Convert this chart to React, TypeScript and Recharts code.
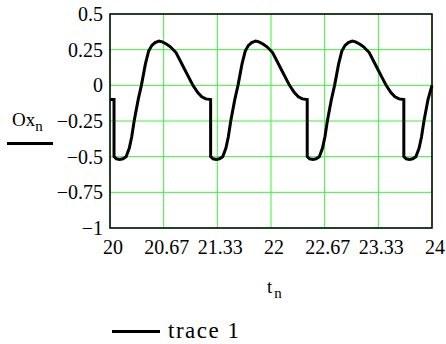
import React from "react"
import {
    LineChart,
    Line,
    XAxis,
    YAxis,
    CartesianGrid,
    ReferenceArea,
} from "recharts"

// time samples (vertical drops use the same t twice)
const T = [
    20, 20.05,
    20.05, 20.08, 20.12, 20.16, 20.2, 20.24, 20.27, 20.3, 20.35, 20.39, 20.44, 20.48,
    20.52, 20.56, 20.61, 20.65, 20.7, 20.75, 20.82, 20.92, 21.03, 21.09, 21.14, 21.19, 21.25,
    21.25, 21.28, 21.32, 21.36, 21.4, 21.44, 21.47, 21.5, 21.55, 21.59, 21.64, 21.68,
    21.72, 21.76, 21.81, 21.85, 21.9, 21.95, 22.02, 22.12, 22.23, 22.29, 22.34, 22.39, 22.45,
    22.45, 22.48, 22.52, 22.56, 22.6, 22.64, 22.67, 22.7, 22.75, 22.79, 22.84, 22.88,
    22.92, 22.96, 23.01, 23.05, 23.1, 23.15, 23.22, 23.32, 23.43, 23.49, 23.54, 23.59, 23.65,
    23.65, 23.68, 23.72, 23.76, 23.8, 23.84, 23.87, 23.9, 23.95, 24,
]

const OX = [
    -0.1, -0.1,
    -0.5, -0.515, -0.52, -0.515, -0.5, -0.44, -0.36, -0.25, -0.1, 0, 0.15, 0.24,
    0.28, 0.3, 0.31, 0.305, 0.29, 0.27, 0.23, 0.12, 0, -0.05, -0.08, -0.095, -0.1,
    -0.5, -0.515, -0.52, -0.515, -0.5, -0.44, -0.36, -0.25, -0.1, 0, 0.15, 0.24,
    0.28, 0.3, 0.31, 0.305, 0.29, 0.27, 0.23, 0.12, 0, -0.05, -0.08, -0.095, -0.1,
    -0.5, -0.515, -0.52, -0.515, -0.5, -0.44, -0.36, -0.25, -0.1, 0, 0.15, 0.24,
    0.28, 0.3, 0.31, 0.305, 0.29, 0.27, 0.23, 0.12, 0, -0.05, -0.08, -0.095, -0.1,
    -0.5, -0.515, -0.52, -0.515, -0.5, -0.44, -0.36, -0.25, -0.1, 0,
]

const X_TICKS = [20, 20 + 2 / 3, 20 + 4 / 3, 22, 22 + 2 / 3, 22 + 4 / 3, 24]
const X_TICK_LABELS = ["20", "20.67", "21.33", "22", "22.67", "23.33", "24"]
const Y_TICKS = [0.5, 0.25, 0, -0.25, -0.5, -0.75, -1]
const Y_TICK_LABELS = ["0.5", "0.25", "0", "\u22120.25", "\u22120.5", "\u22120.75", "\u22121"]

const data = T.map((t, i) => ({ t, ox: OX[i] }))

const FONT = "Liberation Serif"
const CSS = `.mc, .mc * { font-family: "Liberation Serif", "Times New Roman", serif !important; }`

export default function App() {
    return (
        <div
            className="mc"
            style={{
                position: "absolute",
                left: 0,
                top: 0,
                width: 446,
                height: 344,
                background: "#fff",
            }}
        >
            <style>{CSS}</style>
            <LineChart
                width={446}
                height={344}
                data={data}
                margin={{ top: 14, right: 14, bottom: 86, left: 10 }}
            >
                <CartesianGrid stroke="#3cf03c" strokeWidth={1} ticks={X_TICKS} />
                <XAxis
                    dataKey="t"
                    type="number"
                    domain={[20, 24]}
                    ticks={X_TICKS}
                    interval={0}
                    height={30}
                    tickLine={false}
                    axisLine={false}
                    tickSize={0}
                    tickMargin={12}
                    tick={{ fill: "#000", fontSize: 20, fontFamily: FONT, dx: 3 }}
                    tickFormatter={(v: number) => X_TICK_LABELS[X_TICKS.findIndex((x) => Math.abs(x - v) < 1e-6)]}
                />
                <YAxis
                    type="number"
                    domain={[-1, 0.5]}
                    ticks={Y_TICKS}
                    interval={0}
                    width={100}
                    tickLine={false}
                    axisLine={false}
                    tickSize={0}
                    tickMargin={7}
                    tick={{ fill: "#000", fontSize: 20, fontFamily: FONT }}
                    tickFormatter={(v: number) => Y_TICK_LABELS[Y_TICKS.indexOf(v)]}
                />
                <ReferenceArea
                    x1={20}
                    x2={24}
                    y1={-1}
                    y2={0.5}
                    fill="none"
                    stroke="#000"
                    strokeWidth={1.5}
                    ifOverflow="visible"
                />
                <Line
                    type="linear"
                    dataKey="ox"
                    stroke="#000"
                    strokeWidth={3}
                    dot={false}
                    isAnimationActive={false}
                />
            </LineChart>

            <div style={{ position: "absolute", left: 12, top: 110, fontSize: 19, lineHeight: "20px", color: "#000" }}>
                Ox<sub style={{ fontSize: 15, verticalAlign: "-5px" }}>n</sub>
            </div>
            <div style={{ position: "absolute", left: 7, top: 142, width: 46, height: 3, background: "#000" }} />

            <div style={{ position: "absolute", left: 267, top: 277, fontSize: 19, lineHeight: "20px", color: "#000" }}>
                t<sub style={{ fontSize: 15, verticalAlign: "-5px", marginLeft: 2 }}>n</sub>
            </div>

            <div style={{ position: "absolute", left: 112, top: 330, width: 48, height: 3, background: "#000" }} />
            <div style={{ position: "absolute", left: 168, top: 318, fontSize: 23, lineHeight: "26px", color: "#000", letterSpacing: 1.5 }}>
                trace 1
            </div>
        </div>
    )
}
